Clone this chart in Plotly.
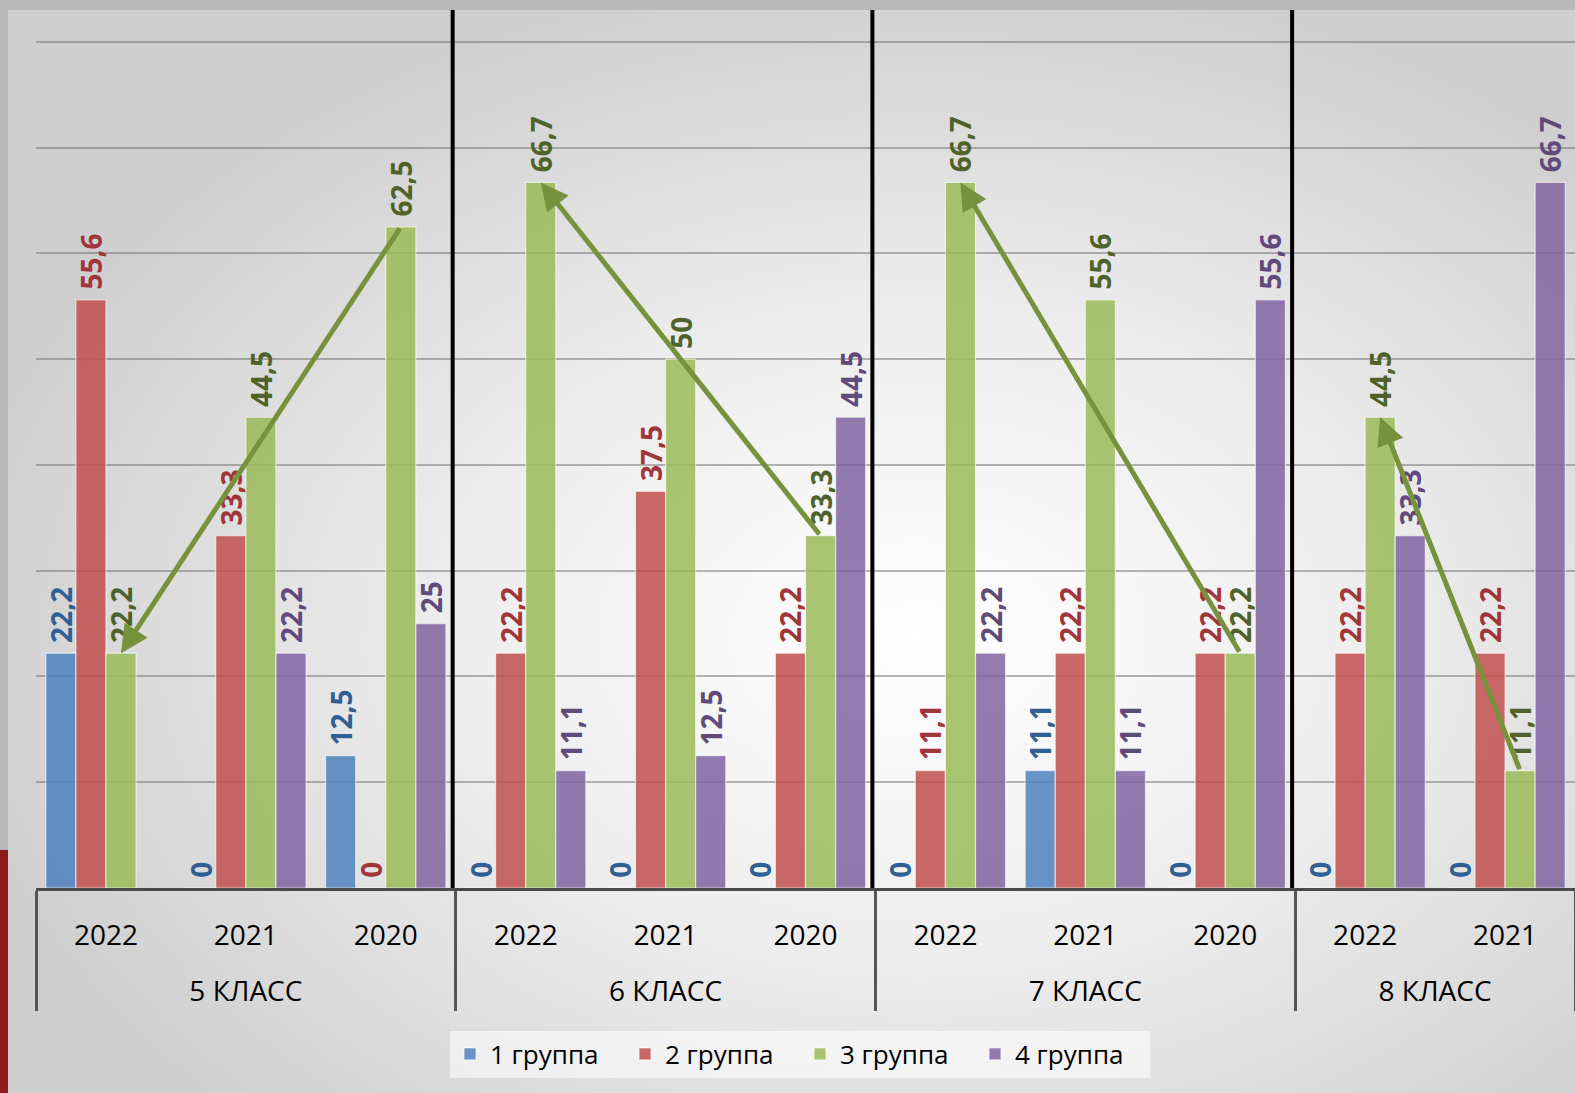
import base64
import plotly.graph_objects as go

# ---------------- data ----------------
classes = ["5 КЛАСС", "6 КЛАСС", "7 КЛАСС", "8 КЛАСС"]
years = {
    "5 КЛАСС": ["2022", "2021", "2020"],
    "6 КЛАСС": ["2022", "2021", "2020"],
    "7 КЛАСС": ["2022", "2021", "2020"],
    "8 КЛАСС": ["2022", "2021"],
}
series_names = ["1 группа", "2 группа", "3 группа", "4 группа"]
group1 = [22.2, 0, 12.5, 0, 0, 0, 0, 11.1, 0, 0, 0]
group2 = [55.6, 33.3, 0, 22.2, 37.5, 22.2, 11.1, 22.2, 22.2, 22.2, 22.2]
group3 = [22.2, 44.5, 62.5, 66.7, 50, 33.3, 66.7, 55.6, 22.2, 44.5, 11.1]
group4 = [None, 22.2, 25, 11.1, 12.5, 44.5, 22.2, 11.1, 55.6, 33.3, 66.7]
series_values = [group1, group2, group3, group4]

# trend arrows on "3 группа": (class, from year, to year)
arrows = [
    ("5 КЛАСС", "2020", "2022"),
    ("6 КЛАСС", "2020", "2022"),
    ("7 КЛАСС", "2020", "2022"),
    ("8 КЛАСС", "2021", "2022"),
]

# ---------------- styles ----------------
bar_colors = ["rgba(79,129,189,0.85)", "rgba(192,80,77,0.85)",
              "rgba(155,187,89,0.85)", "rgba(128,100,162,0.85)"]
label_colors = ["#2F5F93", "#A0363A", "#4F6228", "#604A7B"]
FONT = "Open Sans, Noto Sans, sans-serif"

lvl1, lvl2 = [], []
for c in classes:
    for y in years[c]:
        lvl1.append("<br>" + c)
        lvl2.append(y)
n_cat = len(lvl1)


def fmt(v):
    if v is None:
        return ""
    return "\u00a0" + f"{v:g}".replace(".", ",")


fig = go.Figure()
for name, vals, col, lcol in zip(series_names, series_values, bar_colors, label_colors):
    fig.add_trace(go.Bar(
        name=name,
        x=[lvl1, lvl2],
        y=vals,
        text=[fmt(v) for v in vals],
        textposition="outside",
        textangle=-90,
        constraintext="none",
        cliponaxis=False,
        textfont=dict(family=FONT, size=28, color=lcol, weight="bold"),
        marker=dict(color=col, line=dict(color="rgba(255,255,255,0.6)", width=1.2)),
    ))

bargap = 0.14
n_series = len(series_names)
bw = (1 - bargap) / n_series
green_off = -(1 - bargap) / 2 + bw * 2.5

cat_index = {(a, b): i for i, (a, b) in enumerate(zip(lvl1, lvl2))}


def dom_x(i):
    return (i + green_off + 0.5) / n_cat


annotations = []
for c, y_from, y_to in arrows:
    i_from = cat_index[("<br>" + c, y_from)]
    i_to = cat_index[("<br>" + c, y_to)]
    annotations.append(dict(
        xref="x domain", yref="y", axref="x domain", ayref="y",
        x=dom_x(i_to), y=group3[i_to],
        ax=dom_x(i_from), ay=group3[i_from],
        showarrow=True, arrowhead=2, arrowsize=1.1, arrowwidth=5,
        arrowcolor="#76923C", text="", standoff=0, startstandoff=0,
    ))

# vertical separators between classes
shapes = []
pos = 0
for c in classes[:-1]:
    pos += len(years[c])
    shapes.append(dict(type="line", xref="x domain", yref="paper",
                       x0=pos / n_cat - 0.002, x1=pos / n_cat - 0.002, y0=0, y1=1,
                       line=dict(color="black", width=4)))

# background gradient
W, H = 1575, 1093
ML, MR, MT, MB = 36, 0, 10, 205
svg = f"""<svg xmlns='http://www.w3.org/2000/svg' width='{W}' height='{H}'>
<defs><radialGradient id='g' cx='0.58' cy='0.58' r='0.62'>
<stop offset='0' stop-color='#ffffff'/><stop offset='0.5' stop-color='#ececec'/>
<stop offset='1' stop-color='#cfcfcf'/></radialGradient></defs>
<rect width='{W}' height='{H}' fill='#b8b8b8'/>
<rect x='0' y='850' width='10' height='{H-850}' fill='#8e1b1b'/>
<rect x='8' y='10' width='{W-8}' height='{H-10}' fill='url(#g)'/>
</svg>"""
src = "data:image/svg+xml;base64," + base64.b64encode(svg.encode()).decode()
pw = W - ML - MR
ph = H - MT - MB

fig.update_layout(
    width=W, height=H,
    margin=dict(l=ML, r=MR, t=MT, b=MB),
    barmode="group", bargap=bargap, bargroupgap=0,
    paper_bgcolor="#d0d0d0", plot_bgcolor="rgba(0,0,0,0)",
    font=dict(family=FONT, color="black"),
    images=[dict(source=src, xref="paper", yref="paper",
                 x=-ML / pw, y=1 + MT / ph, sizex=W / pw, sizey=H / ph,
                 xanchor="left", yanchor="top", sizing="stretch", layer="below")],
    annotations=annotations,
    shapes=shapes,
    legend=dict(orientation="h", x=(800 - ML) / pw, y=-(1054 - (H - MB)) / ph,
                xanchor="center", yanchor="middle",
                bgcolor="rgba(255,255,255,0.55)",
                font=dict(family=FONT, size=26, color="black"),
                itemwidth=30, entrywidth=130, entrywidthmode="pixels"),
    xaxis=dict(type="multicategory", range=[-0.5, n_cat - 0.5],
               showline=True, linecolor="#4a4a4a", linewidth=3,
               ticks="", showdividers=True, dividercolor="#555555", dividerwidth=3,
               tickfont=dict(family=FONT, size=28, color="black"),
               ticklabelstandoff=20,
               showgrid=False),
    yaxis=dict(range=[0, 83], dtick=10, showticklabels=False,
               showgrid=True, gridcolor="rgba(110,110,110,0.5)", gridwidth=1.5,
               zeroline=False, showline=False),
)

fig.write_html("out.html", config={"displayModeBar": False},
               post_script="document.body.style.margin='0';document.body.style.overflow='hidden';")
